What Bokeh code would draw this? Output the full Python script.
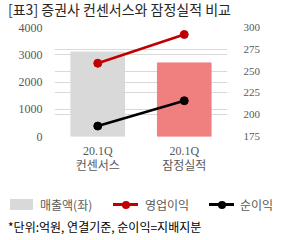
from bokeh.plotting import figure
from bokeh.layouts import column
from bokeh.models import (Range1d, LinearAxis, FactorRange, FixedTicker,
                          ColumnDataSource, Grid, Div)
from bokeh.embed import file_html
from bokeh.resources import INLINE

categories = ["20.1Q\n컨센서스", "20.1Q\n잠정실적"]
sales = [3100, 2700]
op_profit = [259, 292]
net_profit = [187, 216]
bar_colors = ["#d9d9d9", "#f08080"]
left_ticks = [0, 1000, 2000, 3000, 4000]
right_ticks = [175, 200, 225, 250, 275, 300]
title_text = "[표3] 증권사 컨센서스와 잠정실적 비교"
legend_labels = ["매출액(좌)", "영업이익", "순이익"]
footnote = "*단위:억원, 연결기준, 순이익=지배지분"

SERIF = "Liberation Serif, Noto Sans CJK KR"
SANS = "'Noto Sans CJK KR', sans-serif"
RED = "#c00000"
W = 283

# title
title_div = Div(text=title_text, width=W, height=22, margin=(0, 0, 0, 0),
                styles={"font-family": SANS, "font-size": "14px", "color": "#262626",
                        "line-height": "18px", "padding-left": "8px",
                        "box-sizing": "border-box", "white-space": "nowrap"})

# main chart
p = figure(width=W, height=162, output_backend="svg", toolbar_location=None,
           x_range=FactorRange(*categories, range_padding=0),
           y_range=Range1d(0, 4000),
           min_border_left=54, min_border_right=56, min_border_top=5,
           min_border_bottom=48, margin=(0, 0, 0, 0))
p.extra_y_ranges = {"r": Range1d(175, 300)}
p.outline_line_color = None

src = ColumnDataSource(dict(x=categories, y=sales, c=bar_colors))
p.vbar(x="x", top="y", width=0.62, color="c", source=src)
p.line(categories, op_profit, y_range_name="r", line_color=RED, line_width=2.5)
p.scatter(categories, op_profit, y_range_name="r", size=8, color=RED)
p.line(categories, net_profit, y_range_name="r", line_color="black", line_width=2.5)
p.scatter(categories, net_profit, y_range_name="r", size=8, color="black")

p.yaxis.ticker = FixedTicker(ticks=left_ticks)
ra = LinearAxis(y_range_name="r", ticker=FixedTicker(ticks=right_ticks))
p.add_layout(ra, "right")

for ax in [p.yaxis[0], ra, p.xaxis[0]]:
    ax.axis_line_color = None
    ax.major_tick_line_color = None
    ax.minor_tick_line_color = None
    ax.major_label_text_font = SERIF
    ax.major_label_text_font_size = "12px"
    ax.major_label_text_color = "#595959"
ra.major_label_text_font_size = "11px"
p.yaxis[0].major_label_standoff = 6
ra.major_label_standoff = 10
p.xaxis[0].major_label_standoff = 1
p.xaxis[0].major_label_text_line_height = 1.1

p.xgrid.grid_line_color = None
p.ygrid.grid_line_color = "#d9d9d9"
p.add_layout(Grid(dimension=1, ticker=ra.ticker, y_range_name="r", grid_line_color="#d9d9d9"))

# legend + footnote
def line_swatch(color, left):
    return (f'<span style="position:absolute;left:{left}px;top:19px;width:25px;height:3px;'
            f'background:{color}"></span>'
            f'<span style="position:absolute;left:{left + 9}px;top:16.5px;width:8px;height:8px;'
            f'border-radius:50%;background:{color}"></span>')

def lab(text, left, top, color):
    return (f'<span style="position:absolute;left:{left}px;top:{top}px;line-height:16px;'
            f'color:{color};white-space:nowrap">{text}</span>')

html = ('<div style="position:relative;width:283px;height:56px;font-size:12px;'
        f'font-family:{SANS}">'
        '<span style="position:absolute;left:10px;top:15px;width:23px;height:11px;'
        f'background:{bar_colors[0]}"></span>'
        + lab(legend_labels[0], 40, 13, "#595959")
        + line_swatch(RED, 113)
        + lab(legend_labels[1], 145, 13, "#595959")
        + line_swatch("black", 209)
        + lab(legend_labels[2], 240, 13, "#595959")
        + lab(footnote, 8, 35, "black")
        + '</div>')
bottom_div = Div(text=html, width=W, height=56, margin=(0, 0, 0, 0))

layout = column(title_div, p, bottom_div, spacing=0)
open("out.html", "w").write(file_html(layout, INLINE))
